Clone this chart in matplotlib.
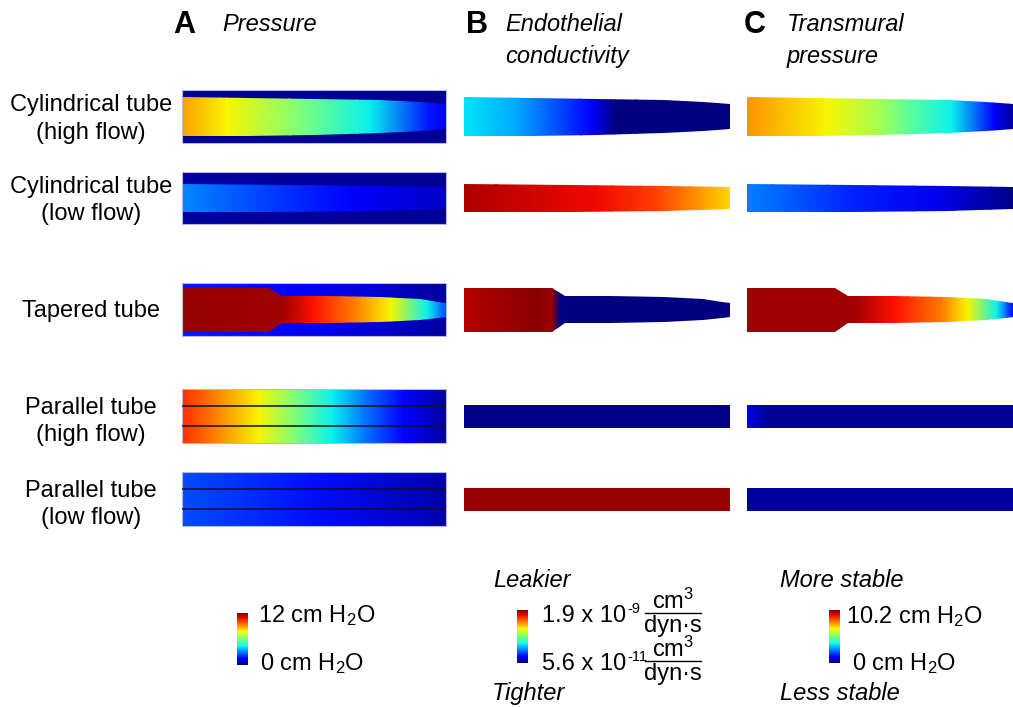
import matplotlib
matplotlib.use("Agg")
import matplotlib.pyplot as plt
import numpy as np
from matplotlib.patches import Polygon
from matplotlib.lines import Line2D
from matplotlib.colors import Normalize
from matplotlib.colorbar import ColorbarBase

plt.rcParams["font.family"] = ["Liberation Sans", "DejaVu Sans"]
plt.rcParams["mathtext.fontset"] = "custom"
plt.rcParams["mathtext.rm"] = "Liberation Sans"
plt.rcParams["mathtext.it"] = "Liberation Sans:italic"
plt.rcParams["mathtext.bf"] = "Liberation Sans:bold"

# --- data ---------------------------------------------------------------
row_labels = [
    ["Cylindrical tube", "(high flow)"],
    ["Cylindrical tube", "(low flow)"],
    ["Tapered tube"],
    ["Parallel tube", "(high flow)"],
    ["Parallel tube", "(low flow)"],
]
panel_letters = ["A", "B", "C"]
panel_titles = [["Pressure"], ["Endothelial", "conductivity"], ["Transmural", "pressure"]]

# tube half-width profiles (pixels) along normalized length
cyl_high_x = [0, 0.25, 0.5, 0.75, 0.9, 0.95, 1.0]
cyl_high_r = [19.5, 19, 18, 16.5, 14.5, 13.5, 12.5]
cyl_low_x = [0, 0.4, 0.75, 1.0]
cyl_low_r = [14, 13.5, 12.5, 11]
taper_x = [0, 0.33, 0.38, 0.55, 0.75, 0.9, 0.97, 1.0]
taper_r = [22, 22, 13.5, 13.5, 12.5, 10.5, 8, 7]
par_x = [0, 1.0]
par_r = [11.5, 11.5]

# field values (0..1 of the colour scale) at stations along the tube
pressure_tube = [
    ([0, 0.17, 0.45, 0.71, 0.93, 1.0], [0.74, 0.65, 0.5, 0.36, 0.15, 0.10]),
    ([0, 0.35, 0.65, 1.0], [0.26, 0.18, 0.12, 0.06]),
    ([0, 0.38, 0.5, 0.65, 0.79, 0.93, 1.0], [0.98, 0.97, 0.89, 0.78, 0.65, 0.36, 0.2]),
    None,
    None,
]
pressure_outer = [
    ([0, 1.0], [0.02, 0.02]),
    ([0, 1.0], [0.03, 0.02]),
    ([0, 0.4, 0.7, 1.0], [0.15, 0.13, 0.08, 0.03]),
    ([0, 0.12, 0.29, 0.43, 0.57, 0.68, 0.84, 1.0], [0.86, 0.78, 0.65, 0.5, 0.36, 0.25, 0.12, 0.03]),
    ([0, 0.5, 1.0], [0.2, 0.14, 0.04]),
]
conductivity = [
    ([0, 0.2, 0.48, 0.57, 1.0], [0.35, 0.29, 0.12, 0.0, 0.0]),
    ([0, 0.5, 0.72, 0.9, 1.0], [0.96, 0.9, 0.84, 0.74, 0.68]),
    ([0, 0.28, 0.33, 0.36, 1.0], [0.95, 0.99, 0.97, 0.0, 0.0]),
    ([0, 1.0], [0.01, 0.01]),
    ([0, 1.0], [0.98, 0.98]),
]
transmural = [
    ([0, 0.3, 0.5, 0.6, 0.77, 0.93, 1.0], [0.75, 0.65, 0.55, 0.47, 0.36, 0.12, 0.02]),
    ([0, 0.4, 0.7, 1.0], [0.25, 0.16, 0.1, 0.01]),
    ([0, 0.4, 0.56, 0.73, 0.83, 0.94, 1.0], [0.97, 0.97, 0.89, 0.78, 0.65, 0.36, 0.12]),
    ([0, 0.08, 1.0], [0.09, 0.02, 0.02]),
    ([0, 1.0], [0.03, 0.03]),
]

cbar_top = ["12 cm H$_2$O", "1.9 x 10", "10.2 cm H$_2$O"]
cbar_bottom = ["0 cm H$_2$O", "5.6 x 10", "0 cm H$_2$O"]
cond_exp = ["-9", "-11"]
unit_num = "cm$^3$"
unit_den = "dyn\u00b7s"
cbar_notes = [None, ["Leakier", "Tighter"], ["More stable", "Less stable"]]

# --- layout -------------------------------------------------------------
W, H = 1013, 707
fig = plt.figure(figsize=(W / 100, H / 100), dpi=100)
renderer = fig.canvas.get_renderer()
FS = 17

row_boxes = [(90, 143), (172, 224), (283, 336), (389, 443), (472, 526)]
panel_x = [(182, 446), (464, 730), (747, 1013)]
geoms = [(cyl_high_x, cyl_high_r), (cyl_low_x, cyl_low_r), (taper_x, taper_r),
         (par_x, par_r), (par_x, par_r)]
label_base = [(111.5, 138.5), (193, 220), (317,), (414, 441), (497, 524)]


def px_axes(x0, y0, x1, y1):
    return fig.add_axes([x0 / W, 1 - y1 / H, (x1 - x0) / W, (y1 - y0) / H])


def ftext(x, y, s, **kw):
    return fig.text(x / W, 1 - y / H, s, fontsize=kw.pop("fontsize", FS), **kw)


def field_mesh(ax, field, half):
    xs, vals = field
    X = np.array([xs, xs], dtype=float)
    Y = np.array([[-half] * len(xs), [half] * len(xs)], dtype=float)
    C = np.array([vals, vals], dtype=float)
    return ax.pcolormesh(X, Y, C, shading="gouraud", cmap="jet", vmin=0, vmax=1)


def tube(ax, geom, field, half):
    gx, gr = geom
    gx = np.asarray(gx, dtype=float)
    gr = np.asarray(gr, dtype=float)
    verts = np.column_stack([np.r_[gx, gx[::-1]], np.r_[gr, -gr[::-1]]])
    poly = Polygon(verts, closed=True, facecolor="none", edgecolor="none",
                   transform=ax.transData)
    ax.add_patch(poly)
    mesh = field_mesh(ax, field, half)
    mesh.set_clip_path(poly)


for i, (y0, y1) in enumerate(row_boxes):
    half = (y1 - y0) / 2
    for p, (x0, x1) in enumerate(panel_x):
        ax = px_axes(x0, y0, x1, y1)
        ax.set_xlim(0, 1)
        ax.set_ylim(-half, half)
        ax.set_axis_off()
        if p == 0:
            field_mesh(ax, pressure_outer[i], half)
            if pressure_tube[i] is not None:
                tube(ax, geoms[i], pressure_tube[i], half)
            else:
                for off in (-10, 10):
                    ax.axhline(off, color="#101020", lw=1.1)
            ax.add_patch(plt.Rectangle((0, -half), 1, 2 * half, fill=False,
                                       edgecolor="#b8b8d8", lw=0.8, clip_on=False))
        else:
            data = conductivity if p == 1 else transmural
            tube(ax, geoms[i], data[i], half)

    for line, yb in zip(row_labels[i], label_base[i]):
        ftext(91, yb, line, ha="center", va="baseline")

# panel headings
head_x = [(173, 222), (466, 505), (744, 787)]
for p in range(3):
    lx, tx = head_x[p]
    ftext(lx, 33, panel_letters[p], fontsize=22, fontweight="bold", va="baseline")
    for k, line in enumerate(panel_titles[p]):
        ftext(tx, 31 + 32 * k, line, style="italic", va="baseline")

# colour bars
cbar_boxes = [(237, 613, 248, 665), (517, 610, 528, 663), (829, 610, 840, 663)]
top_pos = [(258, 622), (542, 622), (846, 623)]
bot_pos = [(260, 670), (542, 670), (852, 670)]
note_pos = [None, [(493, 587), (492, 700)], [(780, 587), (780, 700)]]
for p in range(3):
    cax = px_axes(*cbar_boxes[p])
    cb = ColorbarBase(cax, cmap="jet", norm=Normalize(0, 1), orientation="vertical")
    cb.outline.set_visible(False)
    cb.set_ticks([])
    t1 = ftext(*top_pos[p], cbar_top[p], va="baseline")
    t2 = ftext(*bot_pos[p], cbar_bottom[p], va="baseline")
    if p == 1:
        # exponents right after "10", then the cm3/(dyn s) fraction
        for t, e, (bx, by) in zip((t1, t2), cond_exp, (top_pos[p], bot_pos[p])):
            x_end = t.get_window_extent(renderer).x1
            ftext(x_end + 1, by - 9, e, fontsize=10.5, va="baseline")
            cx, bar_y = 673, by - 9
            ftext(cx, bar_y - 4, unit_num, ha="center", va="baseline")
            ftext(cx, bar_y + 19, unit_den, ha="center", va="baseline")
            fig.add_artist(Line2D([(cx - 28) / W, (cx + 28) / W],
                                  [1 - bar_y / H, 1 - bar_y / H], color="black", lw=1.0))
    if cbar_notes[p] is not None:
        for s, (nx, ny) in zip(cbar_notes[p], note_pos[p]):
            ftext(nx, ny, s, style="italic", va="baseline")

fig.savefig("out.png", dpi=100)
